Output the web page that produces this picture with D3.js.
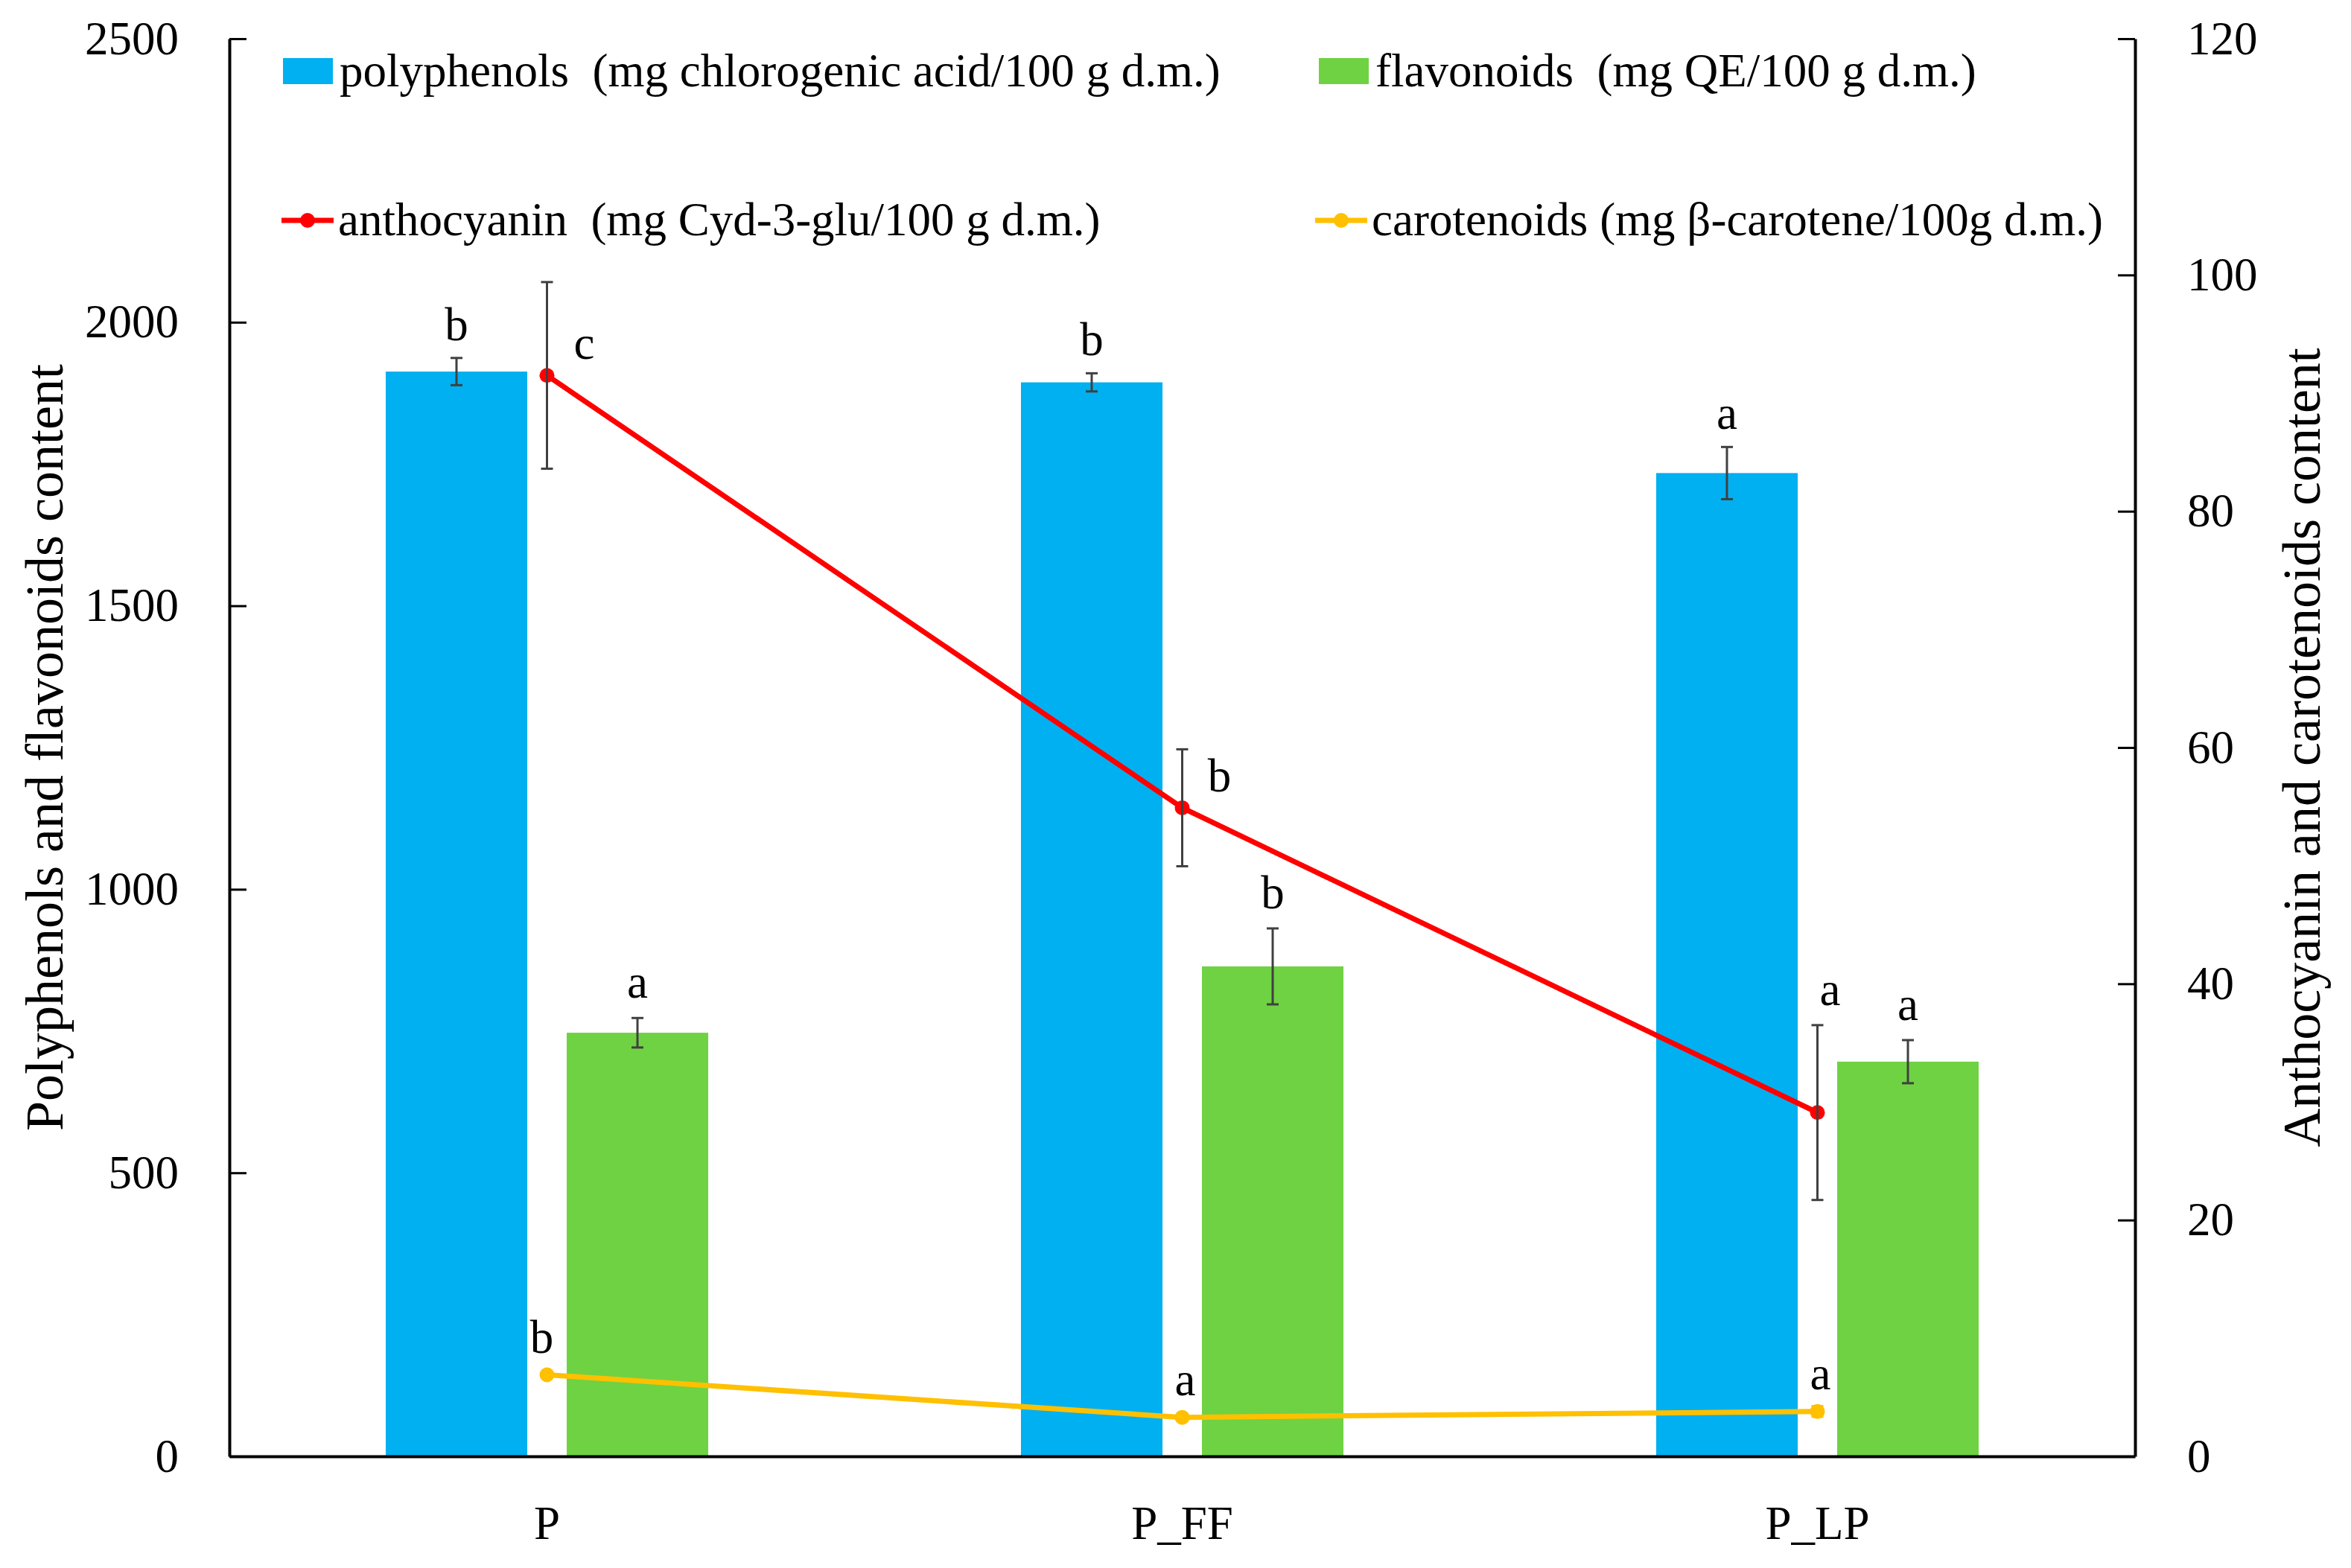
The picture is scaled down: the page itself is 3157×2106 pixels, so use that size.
<!DOCTYPE html>
<html>
<head>
<meta charset="utf-8">
<script src="https://cdn.jsdelivr.net/npm/d3@7"></script>
<style>
  body { margin: 0; background: #fff; }
  text { font-family: "Liberation Serif", "DejaVu Serif", serif; fill: #000; }
</style>
</head>
<body>
<div id="chart"></div>
<script>
// chart data
const categories = ['P', 'P_FF', 'P_LP'];

const polyphenols = [1913, 1894, 1734];
const polyphenolsErr = [24, 16, 46];
const polyphenolsLetters = ['b', 'b', 'a'];

const flavonoids = [747, 864, 696];
const flavonoidsErr = [26, 67, 38];
const flavonoidsLetters = ['a', 'b', 'a'];

const anthocyanin = [91.5, 54.9, 29.1];
const anthocyaninErr = [7.9, 4.95, 7.4];
const anthocyaninLetters = ['c', 'b', 'a'];

const carotenoids = [6.9, 3.3, 3.8];
const carotenoidsErr = [0.2, 0.2, 0.45];
const carotenoidsLetters = ['b', 'a', 'a'];

const leftTicks = [0, 500, 1000, 1500, 2000, 2500];
const rightTicks = [0, 20, 40, 60, 80, 100, 120];

const legendLabels = {
  poly: 'polyphenols  (mg chlorogenic acid/100 g d.m.)',
  flav: 'flavonoids  (mg QE/100 g d.m.)',
  anth: 'anthocyanin  (mg Cyd-3-glu/100 g d.m.)',
  caro: 'carotenoids (mg \u03b2-carotene/100g d.m.)'
};

const WIDTH = 3157;
const HEIGHT = 2106;
const MARGIN = { left: 308, right: 3157 - 2867, top: 52, bottom: 2106 - 1956 };
const FONT = 63;
const TITLE_FONT = 72;

const BLUE = '#00b0f0';
const GREEN = '#6fd242';
const RED = '#ff0000';
const ORANGE = '#ffc000';
const ERR = '#404040';

const svg = d3.select('#chart')
    .append('svg')
    .attr('width', WIDTH)
    .attr('height', HEIGHT);

const x0 = d3.scaleBand()
    .domain(categories)
    .range([MARGIN.left, WIDTH - MARGIN.right])
    .paddingInner(0)
    .paddingOuter(0);

const x1 = d3.scaleBand()
    .domain(['poly', 'flav'])
    .range([0, x0.bandwidth()])
    .paddingInner(0.218)
    .paddingOuter(0.864);

const yLeft = d3.scaleLinear()
    .domain([0, 2500])
    .range([HEIGHT - MARGIN.bottom, MARGIN.top]);

const yRight = d3.scaleLinear()
    .domain([0, 120])
    .range([HEIGHT - MARGIN.bottom, MARGIN.top]);

// bars
const barSeries = [
  { key: 'poly', values: polyphenols, err: polyphenolsErr, letters: polyphenolsLetters, color: BLUE, labelGap: 24 },
  { key: 'flav', values: flavonoids, err: flavonoidsErr, letters: flavonoidsLetters, color: GREEN, labelGap: 27 }
];

const plot = svg.append('g');

barSeries.forEach(s => {
  const g = plot.append('g').attr('class', 'bars-' + s.key);
  const rows = categories.map((c, i) => ({ cat: c, v: s.values[i] }));

  g.selectAll('rect')
      .data(rows)
      .enter()
      .append('rect')
      .attr('x', d => x0(d.cat) + x1(s.key))
      .attr('y', d => yLeft(d.v))
      .attr('width', x1.bandwidth())
      .attr('height', d => yLeft(0) - yLeft(d.v))
      .attr('fill', s.color);
});

// lines
const lineSeries = [
  { key: 'anth', values: anthocyanin, err: anthocyaninErr, color: RED },
  { key: 'caro', values: carotenoids, err: carotenoidsErr, color: ORANGE }
];

const cx = c => x0(c) + x0.bandwidth() / 2;

lineSeries.forEach(s => {
  const rows = categories.map((c, i) => ({ cat: c, v: s.values[i] }));
  const line = d3.line()
      .x(d => cx(d.cat))
      .y(d => yRight(d.v));

  plot.append('path')
      .datum(rows)
      .attr('d', line)
      .attr('fill', 'none')
      .attr('stroke', s.color)
      .attr('stroke-width', 7);

  plot.selectAll('.pt-' + s.key)
      .data(rows)
      .enter()
      .append('circle')
      .attr('class', 'pt-' + s.key)
      .attr('cx', d => cx(d.cat))
      .attr('cy', d => yRight(d.v))
      .attr('r', 10)
      .attr('fill', s.color);
});

// error bars
function errorBar(g, xPos, yTop, yBot, color) {
  const bar = g.append('g').attr('stroke', color);
  bar.append('line').attr('x1', xPos).attr('x2', xPos).attr('y1', yTop).attr('y2', yBot);
  bar.append('line').attr('x1', xPos - 8).attr('x2', xPos + 8).attr('y1', yTop).attr('y2', yTop);
  bar.append('line').attr('x1', xPos - 8).attr('x2', xPos + 8).attr('y1', yBot).attr('y2', yBot);
}

const errG = svg.append('g')
    .attr('stroke-width', 3);

barSeries.forEach(s => {
  categories.forEach((c, i) => {
    const xm = x0(c) + x1(s.key) + x1.bandwidth() / 2;
    errorBar(errG, xm, yLeft(s.values[i] + s.err[i]), yLeft(s.values[i] - s.err[i]), ERR);
  });
});

// anthocyanin error bars are grey, the tiny carotenoid ones blend into the orange markers
categories.forEach((c, i) => {
  errorBar(errG, cx(c), yRight(anthocyanin[i] + anthocyaninErr[i]), yRight(anthocyanin[i] - anthocyaninErr[i]), ERR);
  errorBar(errG, cx(c), yRight(carotenoids[i] + carotenoidsErr[i]), yRight(carotenoids[i] - carotenoidsErr[i]), ORANGE);
});

// significance letters
const letterG = svg.append('g').attr('font-size', FONT);

barSeries.forEach(s => {
  categories.forEach((c, i) => {
    letterG.append('text')
        .attr('x', x0(c) + x1(s.key) + x1.bandwidth() / 2)
        .attr('y', yLeft(s.values[i] + s.err[i]) - s.labelGap)
        .attr('text-anchor', 'middle')
        .text(s.letters[i]);
  });
});

// anthocyanin letters sit right of the point, unless a bar is in the way
categories.forEach((c, i) => {
  const py = yRight(anthocyanin[i]);
  const blocked = py - 30 > yLeft(flavonoids[i]);
  letterG.append('text')
      .attr('x', blocked ? cx(c) + 17 : cx(c) + 50)
      .attr('y', blocked ? yRight(anthocyanin[i] + anthocyaninErr[i]) - 27 : py - 22)
      .attr('text-anchor', 'middle')
      .text(anthocyaninLetters[i]);
});

categories.forEach((c, i) => {
  letterG.append('text')
      .attr('x', cx(c) + (i === 0 ? -7 : 4))
      .attr('y', yRight(carotenoids[i]) - 30)
      .attr('text-anchor', 'middle')
      .text(carotenoidsLetters[i]);
});

// axes
const leftAxis = svg.append('g')
    .attr('transform', `translate(${MARGIN.left},0)`)
    .call(d3.axisLeft(yLeft).tickValues(leftTicks).tickFormat(d3.format('d'))
        .tickSizeInner(-23).tickSizeOuter(0).tickPadding(68));

const rightAxis = svg.append('g')
    .attr('transform', `translate(${WIDTH - MARGIN.right},0)`)
    .call(d3.axisRight(yRight).tickValues(rightTicks).tickFormat(d3.format('d'))
        .tickSizeInner(-23).tickSizeOuter(0).tickPadding(70));

const bottomAxis = svg.append('g')
    .attr('transform', `translate(0,${HEIGHT - MARGIN.bottom})`)
    .call(d3.axisBottom(x0).tickSize(0).tickPadding(66));

[leftAxis, rightAxis, bottomAxis].forEach(ax => {
  ax.select('.domain').attr('stroke', '#000').attr('stroke-width', 4);
  ax.selectAll('.tick line').attr('stroke', '#000').attr('stroke-width', 3);
  ax.selectAll('.tick text')
      .attr('font-family', '"Liberation Serif", serif')
      .attr('font-size', FONT)
      .attr('fill', '#000');
});

// axis titles
svg.append('text')
    .attr('transform', 'translate(84,1004) rotate(-90)')
    .attr('text-anchor', 'middle')
    .attr('font-size', TITLE_FONT)
    .text('Polyphenols and flavonoids content');

svg.append('text')
    .attr('transform', 'translate(3115,1004) rotate(-90)')
    .attr('text-anchor', 'middle')
    .attr('font-size', TITLE_FONT)
    .text('Anthocyanin and carotenoids content');

// legend
const legendItems = [
  { key: 'poly', type: 'rect', color: BLUE, x: 380, y: 96 },
  { key: 'flav', type: 'rect', color: GREEN, x: 1771, y: 96 },
  { key: 'anth', type: 'line', color: RED, x: 378, y: 296 },
  { key: 'caro', type: 'line', color: ORANGE, x: 1766, y: 296 }
];

const legend = svg.append('g').attr('class', 'legend');

legendItems.forEach(item => {
  const g = legend.append('g').attr('transform', `translate(${item.x},${item.y})`);
  if (item.type === 'rect') {
    g.append('rect')
        .attr('x', 0).attr('y', -18)
        .attr('width', 67).attr('height', 35)
        .attr('fill', item.color);
  } else {
    g.append('line')
        .attr('x1', 0).attr('x2', 70)
        .attr('y1', 0).attr('y2', 0)
        .attr('stroke', item.color).attr('stroke-width', 7);
    g.append('circle')
        .attr('cx', 35).attr('cy', 0).attr('r', 10)
        .attr('fill', item.color);
  }
  g.append('text')
      .attr('x', 76)
      .attr('y', 20)
      .attr('font-size', FONT)
      .style('white-space', 'pre')
      .text(legendLabels[item.key]);
});
</script>
</body>
</html>
